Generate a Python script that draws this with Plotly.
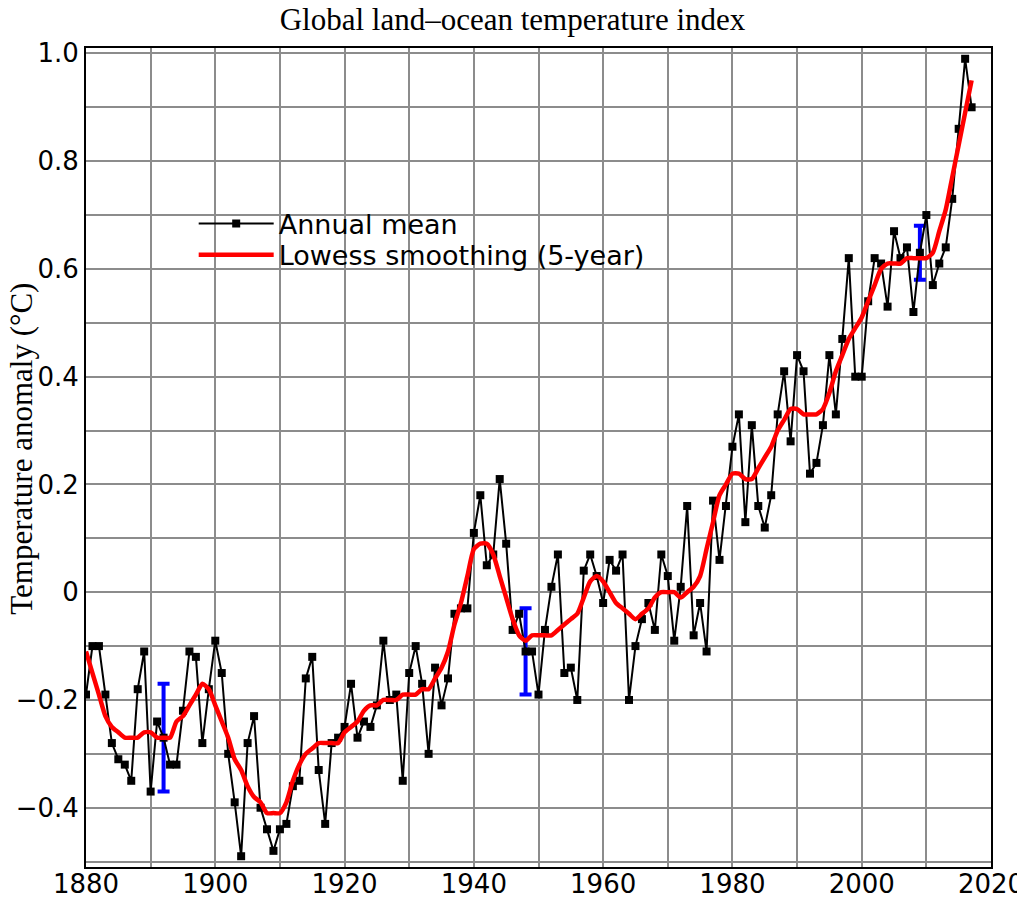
import plotly.graph_objects as go

years = list(range(1880, 2018))

annual_mean = [
    -0.19, -0.10, -0.10, -0.19, -0.28, -0.31, -0.32, -0.35, -0.18, -0.11,
    -0.37, -0.24, -0.27, -0.32, -0.32, -0.22, -0.11, -0.12, -0.28, -0.18,
    -0.09, -0.15, -0.30, -0.39, -0.49, -0.28, -0.23, -0.40, -0.44, -0.48,
    -0.44, -0.43, -0.36, -0.35, -0.16, -0.12, -0.33, -0.43, -0.28, -0.27,
    -0.25, -0.17, -0.27, -0.24, -0.25, -0.21, -0.09, -0.20, -0.19, -0.35,
    -0.15, -0.10, -0.17, -0.30, -0.14, -0.21, -0.16, -0.04, -0.03, -0.03,
    0.11, 0.18, 0.05, 0.07, 0.21, 0.09, -0.07, -0.04, -0.11, -0.11,
    -0.19, -0.07, 0.01, 0.07, -0.15, -0.14, -0.20, 0.04, 0.07, 0.03,
    -0.02, 0.06, 0.04, 0.07, -0.20, -0.10, -0.05, -0.02, -0.07, 0.07,
    0.03, -0.09, 0.01, 0.16, -0.08, -0.02, -0.11, 0.17, 0.06, 0.16,
    0.27, 0.33, 0.13, 0.31, 0.16, 0.12, 0.18, 0.33, 0.41, 0.28,
    0.44, 0.41, 0.22, 0.24, 0.31, 0.44, 0.33, 0.47, 0.62, 0.40,
    0.40, 0.54, 0.62, 0.61, 0.53, 0.67, 0.62, 0.64, 0.52, 0.63,
    0.70, 0.57, 0.61, 0.64, 0.73, 0.86, 0.99, 0.90,
]

lowess_5yr = [
    -0.11, -0.15, -0.19, -0.23, -0.25, -0.26, -0.27, -0.27, -0.27, -0.26,
    -0.26, -0.27, -0.27, -0.27, -0.24, -0.23, -0.21, -0.19, -0.17, -0.18,
    -0.21, -0.24, -0.27, -0.31, -0.33, -0.36, -0.38, -0.39, -0.41, -0.41,
    -0.41, -0.39, -0.35, -0.32, -0.30, -0.29, -0.28, -0.28, -0.28, -0.28,
    -0.26, -0.25, -0.24, -0.22, -0.21, -0.21, -0.20, -0.20, -0.20, -0.19,
    -0.19, -0.19, -0.18, -0.18, -0.16, -0.14, -0.11, -0.06, -0.02, 0.03,
    0.08, 0.09, 0.09, 0.07, 0.03, -0.01, -0.05, -0.08, -0.09, -0.08,
    -0.08, -0.08, -0.08, -0.07, -0.06, -0.05, -0.04, -0.01, 0.02, 0.03,
    0.02, 0.00, -0.02, -0.03, -0.04, -0.05, -0.04, -0.03, -0.01, 0.00,
    0.00, 0.00, -0.01, 0.00, 0.01, 0.03, 0.08, 0.13, 0.18, 0.20,
    0.22, 0.22, 0.21, 0.21, 0.23, 0.25, 0.27, 0.30, 0.32, 0.34,
    0.34, 0.33, 0.33, 0.33, 0.34, 0.37, 0.41, 0.44, 0.47, 0.49,
    0.51, 0.54, 0.57, 0.60, 0.61, 0.61, 0.61, 0.62, 0.62, 0.62,
    0.62, 0.63, 0.67, 0.71, 0.77, 0.83, 0.89, 0.95,
]

# uncertainty bars
err_years = [1892, 1948, 2009]
err_centers = [-0.27, -0.11, 0.63]
err_half = [0.10, 0.08, 0.05]

x_tickvals = [1880, 1900, 1920, 1940, 1960, 1980, 2000, 2020]
y_tickvals = [-0.4, -0.2, 0, 0.2, 0.4, 0.6, 0.8, 1.0]
y_ticktext = ["\u22120.4", "\u22120.2", "0", "0.2", "0.4", "0.6", "0.8", "1.0"]

fig = go.Figure()

fig.add_trace(
    go.Scatter(
        x=err_years,
        y=err_centers,
        mode="markers",
        marker=dict(size=1, opacity=0),
        error_y=dict(type="data", array=err_half, color="#0000ff",
                     thickness=4, width=6),
        showlegend=False,
        hoverinfo="skip",
    )
)

fig.add_trace(
    go.Scatter(
        x=years,
        y=annual_mean,
        mode="lines+markers",
        name="Annual mean",
        legend="legend",
        line=dict(color="black", width=2),
        marker=dict(symbol="square", size=8, color="black"),
    )
)

fig.add_trace(
    go.Scatter(
        x=years,
        y=lowess_5yr,
        mode="lines",
        name="Lowess smoothing (5-year)",
        legend="legend2",
        line=dict(color="#ff0000", width=4.5, shape="spline", smoothing=0.6),
    )
)

axis_font = dict(family="DejaVu Sans", size=26, color="black")
legend_font = dict(family="DejaVu Sans", size=27, color="black")
serif_font = dict(family="Liberation Serif", size=31, color="black")
grid = dict(showgrid=True, gridcolor="#8c8c8c", gridwidth=2)


def legend_box(y_top):
    return dict(
        x=0.119,
        y=y_top,
        xanchor="left",
        yanchor="top",
        bgcolor="rgba(0,0,0,0)",
        font=legend_font,
        itemwidth=75,
    )


# the page body adds 8 px around the figure, so the figure is 8 px smaller
fig.update_layout(
    width=1017,
    height=892,
    margin=dict(l=78, r=33.5, t=40, b=32.7),
    plot_bgcolor="white",
    paper_bgcolor="white",
    title=dict(
        text="Global land\u2013ocean temperature index",
        font=serif_font,
        x=504.5 / 1017,
        xanchor="center",
        xref="container",
        y=1 - 11 / 892,
        yanchor="middle",
    ),
    legend=legend_box(0.815),
    legend2=legend_box(0.777),
    xaxis=dict(
        range=[1880, 2020],
        tickvals=x_tickvals,
        tickfont=axis_font,
        ticks="",
        ticklabelstandoff=-7,
        automargin=False,
        showline=True,
        linecolor="black",
        linewidth=2,
        mirror=True,
        zeroline=False,
        minor=dict(dtick=10, tick0=1880, showgrid=True, gridcolor="#8c8c8c",
                   gridwidth=2),
        **grid,
    ),
    yaxis=dict(
        range=[-0.51, 1.01],
        tickvals=y_tickvals,
        ticktext=y_ticktext,
        tickfont=axis_font,
        ticks="",
        automargin=False,
        showline=True,
        linecolor="black",
        linewidth=2,
        mirror=True,
        zeroline=False,
        minor=dict(dtick=0.1, tick0=0, showgrid=True, gridcolor="#8c8c8c",
                   gridwidth=2),
        **grid,
    ),
    annotations=[
        dict(
            text="Temperature anomaly (\u00b0C)",
            xref="paper",
            yref="paper",
            x=(22 - 86) / 905.5,
            y=(867.3 - 449) / 819,
            xanchor="center",
            yanchor="middle",
            textangle=-90,
            showarrow=False,
            font=serif_font,
        )
    ],
)

fig.write_html("out.html")
